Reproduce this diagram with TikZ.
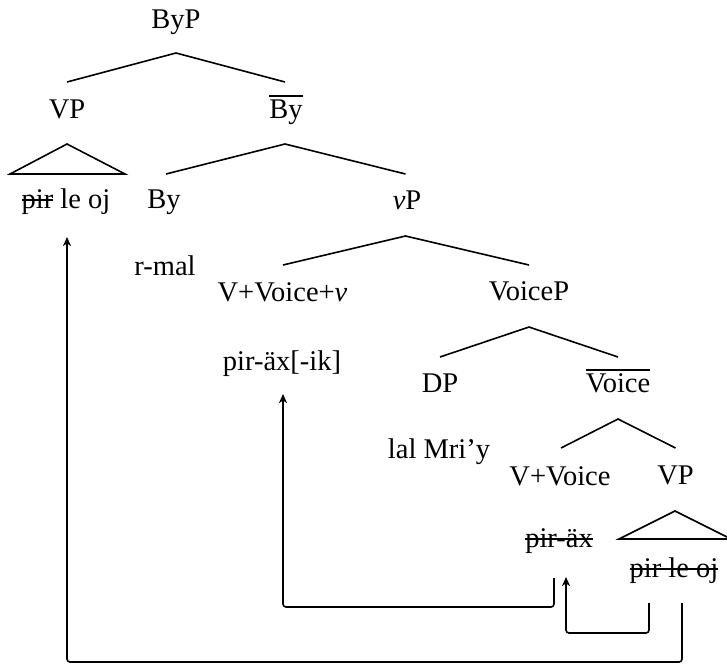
\documentclass[tikz,border=0pt]{standalone}
\usepackage{fontspec}
\setmainfont{Liberation Serif}
\usetikzlibrary{arrows.meta}
% struck-out text
\newcommand\strk[1]{\leavevmode\setbox0\hbox{#1}%
  \rlap{\vrule width\wd0 height 8.8pt depth -7.2pt}\box0\relax}
% bar-level label (X-bar)
\newcommand\xbar[1]{\vbox{\hrule height 1.5pt\kern 2.5pt\hbox{#1}}}
\tikzset{
  lbl/.style={anchor=base, inner sep=0pt, font=\fontsize{28.5}{34}\selectfont},
  edge/.style={line width=1.6pt},
  move/.style={line width=1.6pt, rounded corners=3pt,
    -{Stealth[length=9pt,width=8pt,inset=2.5pt]}},
}
\begin{document}
\begin{tikzpicture}[x=1pt,y=-1pt]
\useasboundingbox (0,0) rectangle (727,667);

% labels
\node[lbl] (ByP)    at (176,28)   {ByP};
\node[lbl] (VPa)    at (67,118)   {VP};
\node[lbl] (Bybar)  at (286,118)  {\xbar{By}};
\node[lbl] (pirA)   at (66,208)   {\strk{pir} le oj};
\node[lbl] (By)     at (164,208)  {By};
\node[lbl] (vP)     at (407,209)  {\textit{v}P};
\node[lbl] (rmal)   at (165,275)  {r-mal};
\node[lbl] (VVv)    at (282.5,301){V+Voice+\textit{v}};
\node[lbl] (VoiceP) at (529,300)  {VoiceP};
\node[lbl] (piraxik)at (282,370)  {pir-äx[-ik]};
\node[lbl] (DP)     at (440,392)  {DP};
\node[lbl] (Vbar)   at (618,392)  {\xbar{Voice}};
\node[lbl] (lal)    at (439,458)  {lal Mri’y};
\node[lbl] (VV)     at (560,485)  {V+Voice};
\node[lbl] (VPb)    at (675.5,484){VP};
\node[lbl] (pirax)  at (559,547)  {\strk{pir-äx}};
\node[lbl] (pirB)   at (674,577)  {\strk{pir le oj}};

% branch points
\coordinate (ByP-d)    at (176,53);
\coordinate (VPa-u)    at (67,82);
\coordinate (Bybar-u)  at (285,82);
\coordinate (VPa-d)    at (67,144);
\coordinate (triA-l)   at (10,174);
\coordinate (triA-r)   at (125,174);
\coordinate (Bybar-d)  at (285,144);
\coordinate (By-u)     at (166,174);
\coordinate (vP-u)     at (405.5,174);
\coordinate (vP-d)     at (405.5,236);
\coordinate (VVv-u)    at (283,265);
\coordinate (VoiceP-u) at (529,265);
\coordinate (VoiceP-d) at (529,327);
\coordinate (DP-u)     at (440,357);
\coordinate (Vbar-u)   at (618,357);
\coordinate (Vbar-d)   at (618,419);
\coordinate (VV-u)     at (561,448);
\coordinate (VPb-u)    at (675.5,448);
\coordinate (VPb-d)    at (675,511);
\coordinate (triB-l)   at (619,539);
\coordinate (triB-r)   at (731,539);

% tree branches
\draw[edge] (VPa-u) -- (ByP-d) -- (Bybar-u);
\draw[edge] (triA-l) -- (VPa-d) -- (triA-r) -- cycle;
\draw[edge] (By-u) -- (Bybar-d) -- (vP-u);
\draw[edge] (VVv-u) -- (vP-d) -- (VoiceP-u);
\draw[edge] (DP-u) -- (VoiceP-d) -- (Vbar-u);
\draw[edge] (VV-u) -- (Vbar-d) -- (VPb-u);
\draw[edge] (triB-l) -- (VPb-d) -- (triB-r) -- cycle;

% movement arrows
\coordinate (m3s) at (554,578);
\coordinate (m3t) at (283,394);
\coordinate (m2s) at (649,603);
\coordinate (m2t) at (566,577);
\coordinate (m1s) at (682,603);
\coordinate (m1t) at (67,237);
\draw[move] (m3s) -- (554,607) -| (m3t);
\draw[move] (m2s) -- (649,633) -| (m2t);
\draw[move] (m1s) -- (682,662) -| (m1t);
\end{tikzpicture}
\end{document}
